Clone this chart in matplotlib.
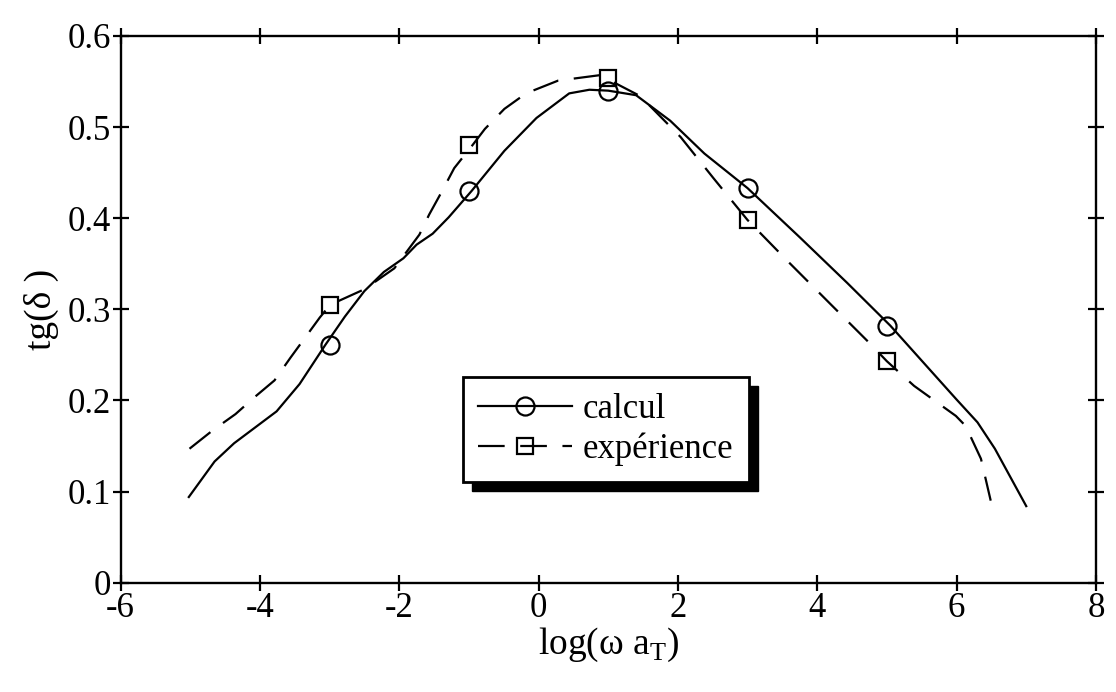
import matplotlib
matplotlib.use('Agg')
import matplotlib.pyplot as plt
from matplotlib.lines import Line2D
from matplotlib.patches import Rectangle

plt.rcParams['font.family'] = ['Liberation Serif', 'DejaVu Serif']
plt.rcParams['mathtext.fontset'] = 'custom'
plt.rcParams['mathtext.rm'] = 'Liberation Serif'
plt.rcParams['axes.unicode_minus'] = False

# calcul (solid curve)
calc_x = [-5.02, -4.65, -4.37, -3.76, -3.43, -3.06, -2.78, -2.5, -2.22, -1.94, -1.75, -1.52, -1.29,
          -0.96, -0.49, -0.03, 0.44, 0.73, 1.0, 1.4, 1.89, 2.38, 2.87, 3.0, 3.75, 4.43, 5.05,
          6.0, 6.3, 6.55, 7.0]
calc_y = [0.094, 0.133, 0.153, 0.188, 0.218, 0.261, 0.292, 0.320, 0.341, 0.356, 0.371, 0.383, 0.401,
          0.430, 0.474, 0.510, 0.537, 0.541, 0.540, 0.535, 0.507, 0.471, 0.441, 0.433, 0.379, 0.329, 0.282,
          0.201, 0.176, 0.147, 0.084]

# expérience (dashed curve)
exp_x = [-5.01, -4.68, -4.35, -4.07, -3.79, -3.56, -3.35, -3.14, -2.99, -2.5, -2.07, -1.71, -1.57,
         -1.39, -1.21, -0.95, -0.77, -0.49, -0.18, 0.28, 0.88, 1.46, 2.04, 2.51, 3.0, 3.6, 4.2,
         4.75, 5.0, 5.39, 5.99, 6.13, 6.35, 6.49]
exp_y = [0.147, 0.167, 0.185, 0.204, 0.222, 0.247, 0.269, 0.291, 0.305, 0.322, 0.345, 0.382, 0.404,
         0.429, 0.455, 0.480, 0.498, 0.520, 0.537, 0.551, 0.557, 0.534, 0.489, 0.444, 0.398, 0.351, 0.305,
         0.263, 0.243, 0.216, 0.183, 0.172, 0.136, 0.090]

# markers
calc_mx = [-3, -1, 1, 3, 5]
calc_my = [0.261, 0.430, 0.540, 0.433, 0.282]
exp_mx = [-3, -1, 1, 3, 5]
exp_my = [0.305, 0.480, 0.554, 0.398, 0.243]

xticks = [-6, -4, -2, 0, 2, 4, 6, 8]
xtick_labels = ['-6', '-4', '-2', '0', '2', '4', '6', '8']
yticks = [0, 0.1, 0.2, 0.3, 0.4, 0.5, 0.6]
ytick_labels = ['0', '0.1', '0.2', '0.3', '0.4', '0.5', '0.6']

fig = plt.figure(figsize=(11.16, 6.92), dpi=100)
ax = fig.add_axes([0.108, 0.158, 0.874, 0.79])

dash = (12, 7)
ax.plot(calc_x, calc_y, color='black', lw=1.6)
ax.plot(exp_x, exp_y, color='black', lw=1.6, dashes=dash)
ax.plot(calc_mx, calc_my, ls='none', marker='o', ms=13, mfc='none', mec='black', mew=1.6)
ax.plot(exp_mx, exp_my, ls='none', marker='s', ms=11.5, mfc='none', mec='black', mew=1.6)

ax.set_xlim(-6, 8)
ax.set_ylim(0, 0.6)
ax.set_xticks(xticks)
ax.set_xticklabels(xtick_labels)
ax.set_yticks(yticks)
ax.set_yticklabels(ytick_labels)
ax.tick_params(direction='inout', length=12, width=1.6, labelsize=25,
               top=True, right=True, pad=1)
for s in ax.spines.values():
    s.set_linewidth(1.7)

ax.set_xlabel('log(ω a$_{\\rm T}$)', fontsize=27, labelpad=0)
ax.set_ylabel('tg(δ )', fontsize=27, labelpad=6)

h1 = Line2D([], [], color='black', lw=1.6, marker='o', ms=13, mfc='none', mew=1.6)
h2 = Line2D([], [], color='black', lw=1.6, dashes=dash, marker='s', ms=11.5, mfc='none', mew=1.6)
leg = ax.legend([h1, h2], ['calcul', 'expérience'], loc='lower left',
                bbox_to_anchor=(0.34, 0.165), fontsize=25, numpoints=1,
                fancybox=False, framealpha=1, edgecolor='black', handlelength=2.7,
                handletextpad=0.3, borderpad=0.45, borderaxespad=0.3, labelspacing=0.2)
leg.get_frame().set_linewidth(2)

# thick black shadow on right and bottom of the legend box
fig.canvas.draw()
bb = leg.get_window_extent().transformed(ax.transAxes.inverted())
dx = 9 / ax.bbox.width
dy = 9 / ax.bbox.height
ax.add_patch(Rectangle((bb.x0 + dx, bb.y0 - dy), bb.width, bb.height,
                       transform=ax.transAxes, color='black', zorder=4.8, clip_on=False))

fig.savefig('out.png', dpi=100)
